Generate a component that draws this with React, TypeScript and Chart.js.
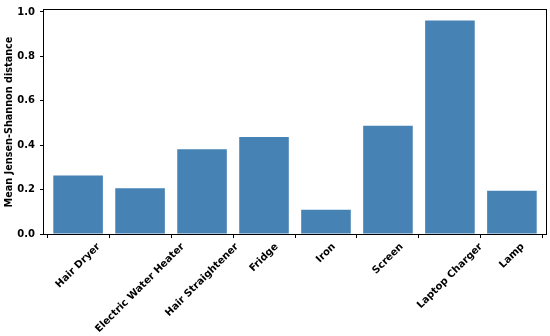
import React, { useEffect, useRef } from "react";
import { Chart, registerables } from "chart.js";

Chart.register(...registerables);

const categories = [
  "Hair Dryer",
  "Electric Water Heater",
  "Hair Straightener",
  "Fridge",
  "Iron",
  "Screen",
  "Laptop Charger",
  "Lamp",
];
const meanJSD = [0.263, 0.206, 0.382, 0.437, 0.109, 0.488, 0.962, 0.195];
const yTicks = [0, 0.2, 0.4, 0.6, 0.8, 1.0];
const yTitle = "Mean Jensen-Shannon distance";

const FONT = "'DejaVu Sans', sans-serif";
const BAR = "#4682B4";

const framePlugin = {
  id: "frame",
  afterDraw(chart: any) {
    const { ctx, chartArea } = chart;
    const { left, right, top, bottom } = chartArea;
    ctx.save();
    ctx.strokeStyle = "#000";
    ctx.lineWidth = 1;
    ctx.strokeRect(Math.round(left) - 0.5, Math.round(top) - 0.5, Math.round(right - left) + 1, Math.round(bottom - top) + 1);
    ctx.restore();

    // rotated x labels, bounding box centred on each tick (matplotlib ha='center')
    const xs = chart.scales.x;
    ctx.save();
    ctx.fillStyle = "#000";
    ctx.font = `bold 10px ${FONT}`;
    ctx.textAlign = "center";
    ctx.textBaseline = "middle";
    const c = Math.SQRT1_2;
    const h = 11.5;
    const y0 = bottom + 7;
    categories.forEach((label, i) => {
      const x = xs.getPixelForValue(i);
      const w = ctx.measureText(label).width;
      const half = ((w + h) * c) / 2;
      ctx.save();
      ctx.translate(x, y0 + half);
      ctx.rotate(-Math.PI / 4);
      ctx.fillText(label, 0, 0);
      ctx.restore();
    });
    ctx.restore();
  },
};

export default function App() {
  const ref = useRef<HTMLCanvasElement>(null);
  useEffect(() => {
    if (!ref.current) return;
    const chart = new Chart(ref.current, {
      type: "bar",
      data: {
        datasets: [
          {
            data: meanJSD.map((v, i) => ({ x: i, y: v })),
            backgroundColor: BAR,
            borderWidth: 0,
            categoryPercentage: 0.8,
            barPercentage: 1,
          },
        ],
      },
      options: {
        animation: false,
        responsive: false,
        layout: { padding: { top: 5, right: 4, left: 0, bottom: 0 } },
        plugins: { legend: { display: false }, tooltip: { enabled: false } },
        scales: {
          x: {
            type: "linear",
            min: -0.55,
            max: 7.55,
            offset: false,
            afterBuildTicks: (s: any) => {
              s.ticks = categories.map((_, i) => ({ value: i }));
            },
            afterFit: (s: any) => {
              s.height = 102;
            },
            ticks: { display: false },
            grid: {
              display: true,
              drawOnChartArea: false,
              drawTicks: true,
              tickLength: 4,
              color: "#000",
              lineWidth: 1,
            },
            border: { display: false },
          },
          y: {
            type: "linear",
            min: 0,
            max: 1.009,
            afterBuildTicks: (s: any) => {
              s.ticks = yTicks.map((v) => ({ value: v }));
            },
            afterFit: (s: any) => {
              s.width = 44;
            },
            ticks: {
              color: "#000",
              padding: 5,
              font: { family: FONT, size: 10, weight: "bold", lineHeight: 1 },
              callback: (v: any) => Number(v).toFixed(1),
            },
            grid: {
              display: true,
              drawOnChartArea: false,
              drawTicks: true,
              tickLength: 4,
              color: "#000",
              lineWidth: 1,
            },
            border: { display: false },
            title: {
              display: true,
              text: yTitle,
              color: "#000",
              font: { family: FONT, size: 9.7, weight: "bold" },
              padding: { top: 4, bottom: 4 },
            },
          },
        },
      },
      plugins: [framePlugin],
    });
    return () => chart.destroy();
  }, []);
  return (
    <canvas
      ref={ref}
      width={550}
      height={336}
      style={{ position: "fixed", left: 0, top: 0, width: 550, height: 336, display: "block" }}
    />
  );
}
